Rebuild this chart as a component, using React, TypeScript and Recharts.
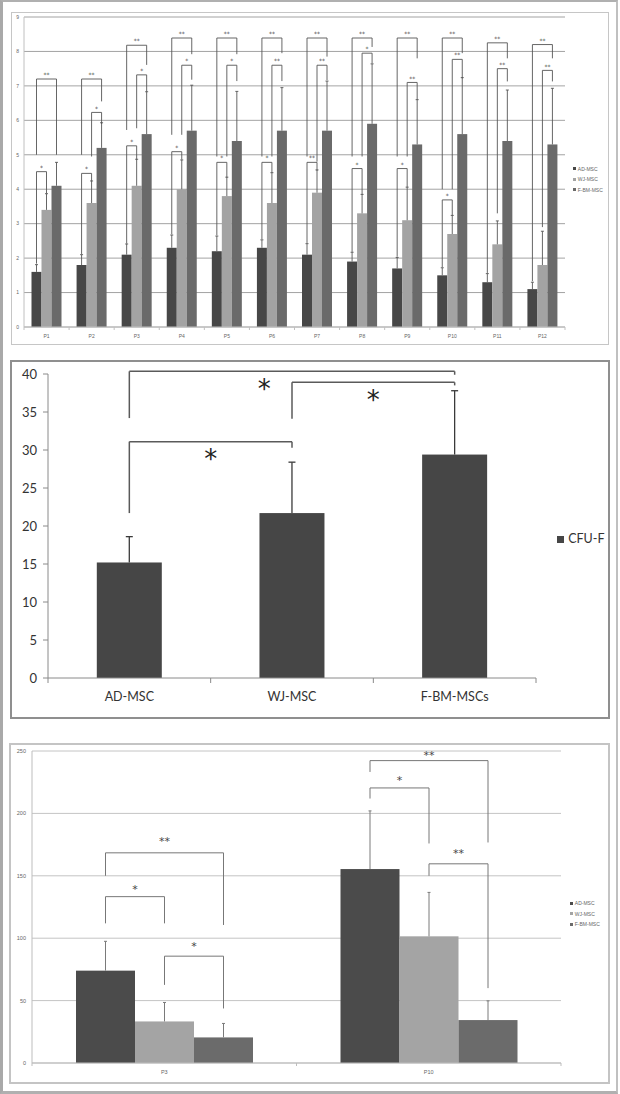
import React from 'react';
import { BarChart, Bar, XAxis, YAxis, CartesianGrid, ReferenceLine } from 'recharts';

// ---------------- Panel A: proliferation by passage ----------------
const passages = ['P1', 'P2', 'P3', 'P4', 'P5', 'P6', 'P7', 'P8', 'P9', 'P10', 'P11', 'P12'];
const adMsc = [1.6, 1.8, 2.1, 2.3, 2.2, 2.3, 2.1, 1.9, 1.7, 1.5, 1.3, 1.1];
const adMscSd = [0.21, 0.3, 0.31, 0.37, 0.44, 0.23, 0.32, 0.27, 0.32, 0.22, 0.25, 0.2];
const wjMsc = [3.4, 3.6, 4.1, 4.0, 3.8, 3.6, 3.9, 3.3, 3.1, 2.7, 2.4, 1.8];
const wjMscSd = [0.47, 0.64, 0.77, 0.85, 0.55, 0.88, 0.66, 0.55, 0.96, 0.54, 0.68, 0.98];
const fbmMsc = [4.1, 5.2, 5.6, 5.7, 5.4, 5.7, 5.7, 5.9, 5.3, 5.6, 5.4, 5.3];
const fbmMscSd = [0.68, 0.73, 1.23, 1.32, 1.44, 1.25, 1.44, 1.74, 1.3, 1.64, 1.48, 1.63];
const growthTicks = [0, 1, 2, 3, 4, 5, 6, 7, 8, 9];
const seriesNames = ['AD-MSC', 'WJ-MSC', 'F-BM-MSC'];

type Bracket = { cat: number; from: number; to: number; y0: number; top: number; y1: number; label: string; labelY?: number };

const growthBrackets: Bracket[] = [
  { cat: 0, from: 0, to: 2, y0: 5.0, top: 7.2, y1: 5.0, label: '**' },
  { cat: 0, from: 0, to: 1, y0: 1.84, top: 4.51, y1: 3.88, label: '*' },
  { cat: 1, from: 0, to: 2, y0: 5.0, top: 7.2, y1: 6.55, label: '**' },
  { cat: 1, from: 1, to: 2, y0: 4.95, top: 6.23, y1: 5.9, label: '*' },
  { cat: 1, from: 0, to: 1, y0: 2.12, top: 4.46, y1: 4.24, label: '*' },
  { cat: 2, from: 0, to: 2, y0: 5.72, top: 8.18, y1: 7.61, label: '**' },
  { cat: 2, from: 1, to: 2, y0: 5.77, top: 7.32, y1: 6.83, label: '*' },
  { cat: 2, from: 0, to: 1, y0: 2.42, top: 5.26, y1: 4.86, label: '*' },
  { cat: 3, from: 0, to: 2, y0: 5.58, top: 8.39, y1: 7.92, label: '**' },
  { cat: 3, from: 1, to: 2, y0: 5.58, top: 7.6, y1: 7.18, label: '*' },
  { cat: 3, from: 0, to: 1, y0: 2.69, top: 5.09, y1: 4.86, label: '*' },
  { cat: 4, from: 0, to: 2, y0: 4.95, top: 8.39, y1: 7.92, label: '**' },
  { cat: 4, from: 1, to: 2, y0: 4.95, top: 7.6, y1: 7.14, label: '*' },
  { cat: 4, from: 0, to: 1, y0: 2.66, top: 4.78, y1: 4.34, label: '*' },
  { cat: 5, from: 0, to: 2, y0: 4.95, top: 8.39, y1: 7.95, label: '**' },
  { cat: 5, from: 1, to: 2, y0: 4.95, top: 7.6, y1: 7.14, label: '**' },
  { cat: 5, from: 0, to: 1, y0: 2.55, top: 4.78, y1: 4.48, label: '*' },
  { cat: 6, from: 0, to: 2, y0: 4.95, top: 8.39, y1: 7.85, label: '**' },
  { cat: 6, from: 1, to: 2, y0: 4.8, top: 7.6, y1: 7.17, label: '**' },
  { cat: 6, from: 0, to: 1, y0: 2.44, top: 4.78, y1: 4.54, label: '**' },
  { cat: 7, from: 0, to: 2, y0: 4.95, top: 8.39, y1: 8.13, label: '**' },
  { cat: 7, from: 1, to: 2, y0: 4.95, top: 7.95, y1: 7.66, label: '*' },
  { cat: 7, from: 0, to: 1, y0: 2.18, top: 4.6, y1: 3.85, label: '*' },
  { cat: 8, from: 0, to: 2, y0: 4.95, top: 8.39, y1: 7.8, label: '**' },
  { cat: 8, from: 1, to: 2, y0: 4.95, top: 7.1, y1: 6.6, label: '**' },
  { cat: 8, from: 0, to: 1, y0: 2.04, top: 4.6, y1: 4.06, label: '*' },
  { cat: 9, from: 0, to: 2, y0: 4.0, top: 8.39, y1: 7.95, label: '**' },
  { cat: 9, from: 1, to: 2, y0: 4.0, top: 7.77, y1: 7.22, label: '**' },
  { cat: 9, from: 0, to: 1, y0: 1.74, top: 3.69, y1: 3.24, label: '*' },
  { cat: 10, from: 0, to: 2, y0: 1.57, top: 8.25, y1: 7.8, label: '**' },
  { cat: 10, from: 1, to: 2, y0: 3.3, top: 7.5, y1: 7.13, label: '**' },
  { cat: 11, from: 0, to: 2, y0: 1.33, top: 8.2, y1: 7.8, label: '**' },
  { cat: 11, from: 1, to: 2, y0: 2.9, top: 7.45, y1: 7.13, label: '**' },
];

// ---------------- Panel B: CFU-F ----------------
const cfuGroups = ['AD-MSC', 'WJ-MSC', 'F-BM-MSCs'];
const cfuValues = [15.2, 21.7, 29.4];
const cfuSd = [3.4, 6.7, 8.4];
const cfuTicks = [0, 5, 10, 15, 20, 25, 30, 35, 40];
const cfuSeriesName = 'CFU-F';
const cfuBrackets = [
  { from: 0, to: 1, y0: 21.7, top: 31.1, y1: 30.3, label: '*', frac: 0.5 },
  { from: 0, to: 2, y0: 34.2, top: 40.35, y1: 39.9, label: '*', frac: 0.415 },
  { from: 1, to: 2, y0: 34.1, top: 38.9, y1: 38.5, label: '*', frac: 0.5 },
];

// ---------------- Panel C: P3 vs P10 ----------------
const colonyPassages = ['P3', 'P10'];
const colAd = [74, 155.4];
const colAdSd = [23.5, 46.6];
const colWj = [33.3, 101.5];
const colWjSd = [15.2, 35.2];
const colFbm = [20.5, 34.4];
const colFbmSd = [11.2, 15.4];
const colonyTicks = [0, 50, 100, 150, 200, 250];
const colonyBrackets: Bracket[] = [
  { cat: 0, from: 0, to: 1, y0: 111.9, top: 133.3, y1: 111.9, label: '*', labelY: 140.7 },
  { cat: 0, from: 0, to: 2, y0: 150, top: 168.4, y1: 110.6, label: '**', labelY: 179.4 },
  { cat: 0, from: 1, to: 2, y0: 62.6, top: 85.6, y1: 43.7, label: '*', labelY: 95 },
  { cat: 1, from: 0, to: 1, y0: 211.9, top: 220.4, y1: 175.9, label: '*', labelY: 228.4 },
  { cat: 1, from: 0, to: 2, y0: 233.2, top: 242.3, y1: 176.7, label: '**', labelY: 248.4 },
  { cat: 1, from: 1, to: 2, y0: 150, top: 159.6, y1: 60, label: '**', labelY: 170 },
];

// ---------------- tables ----------------
const growthData = passages.map((p, i) => ({
  name: p, ad: adMsc[i], adSd: adMscSd[i], wj: wjMsc[i], wjSd: wjMscSd[i], fbm: fbmMsc[i], fbmSd: fbmMscSd[i],
}));
const cfuData = cfuGroups.map((g, i) => ({ name: g, cfu: cfuValues[i], cfuSd: cfuSd[i] }));
const colonyData = colonyPassages.map((p, i) => ({
  name: p, ad: colAd[i], adSd: colAdSd[i], wj: colWj[i], wjSd: colWjSd[i], fbm: colFbm[i], fbmSd: colFbmSd[i],
}));

const FONT_SMALL = '"Liberation Sans", Arial, sans-serif';
const FONT_MAIN = 'Lato, "Open Sans", sans-serif';
const FONT_STAR = '"DejaVu Sans", sans-serif';

type ShapeOpts = {
  fill: string; valueKey: string; sdKey: string; errStroke: string; errWidth: number; capW: number;
  seriesIndex: number; brackets?: Bracket[]; bracketStroke?: string; bracketWidth?: number;
  starSize?: number; starAbove?: number; starColor?: string;
};

function makeBarShape(o: ShapeOpts) {
  return function BarShape(props: any) {
    const { x, y, width, height, payload, index } = props;
    const v = payload[o.valueKey];
    const base = y + height;
    const k = v ? height / v : 0;
    const toY = (val: number) => base - val * k;
    const cx = x + width / 2;
    const errTop = toY(v + payload[o.sdKey]);
    const els: any[] = [];
    els.push(<rect key="r" x={x} y={y} width={width} height={height} fill={o.fill} />);
    els.push(<line key="e" x1={cx} x2={cx} y1={y} y2={errTop} stroke={o.errStroke} strokeWidth={o.errWidth} />);
    els.push(<line key="c" x1={cx - o.capW / 2} x2={cx + o.capW / 2} y1={errTop} y2={errTop} stroke={o.errStroke} strokeWidth={o.errWidth} />);
    if (o.brackets) {
      o.brackets.filter((b) => b.cat === index).forEach((b, j) => {
        const xa = cx + (b.from - o.seriesIndex) * width;
        const xb = cx + (b.to - o.seriesIndex) * width;
        const yt = toY(b.top);
        els.push(
          <path key={'b' + j} d={`M${xa},${toY(b.y0)} V${yt} H${xb} V${toY(b.y1)}`} fill="none"
            stroke={o.bracketStroke} strokeWidth={o.bracketWidth} />
        );
        const ss = o.starSize || 6;
        const cyStar = b.labelY !== undefined ? toY(b.labelY) : yt - (o.starAbove || 5);
        els.push(
          <text key={'s' + j} x={(xa + xb) / 2} y={cyStar + ss * 0.52} textAnchor="middle" fontSize={ss}
            fontFamily={FONT_STAR} fill={o.starColor || '#333'} opacity={0.99}>{b.label}</text>
        );
      });
    }
    return <g>{els}</g>;
  };
}

function makeCatTick(o: { margin: number; tickLen: number; fontSize: number; color: string; lineColor: string; total: number; font: string }) {
  return function CatTick(props: any) {
    const { x, y, payload } = props;
    let half = payload && typeof payload.offset === 'number' ? payload.offset : 0;
    if (!(half > 0) && typeof props.width === 'number' && props.visibleTicksCount) {
      half = props.width / (2 * props.visibleTicksCount);
    }
    const axisY = y - o.margin;
    const idx = typeof props.index === 'number' ? props.index : payload.index;
    return (
      <g>
        {half > 0 && <line x1={x - half} x2={x - half} y1={axisY} y2={axisY + o.tickLen} stroke={o.lineColor} strokeWidth={1} />}
        {half > 0 && idx === o.total - 1 && (
          <line x1={x + half} x2={x + half} y1={axisY} y2={axisY + o.tickLen} stroke={o.lineColor} strokeWidth={1} />
        )}
        <text x={x} y={y} dy="0.71em" textAnchor="middle" fontSize={o.fontSize} fill={o.color} fontFamily={o.font}>
          {payload.value}
        </text>
      </g>
    );
  };
}

function Frame({ left, top, width, height, color, t }: any) {
  return (
    <div style={{ position: 'absolute', left, top, width, height, boxSizing: 'border-box', border: `${t}px solid ${color}` }} />
  );
}

function MiniLegend({ left, top, step, size, fontSize, names, colors, font, color }: any) {
  return (
    <div style={{ position: 'absolute', left, top, fontFamily: font, fontSize, color, lineHeight: `${step}px`, whiteSpace: 'nowrap' }}>
      {names.map((n: string, i: number) => (
        <div key={n} style={{ height: step, display: 'flex', alignItems: 'center' }}>
          <span style={{ display: 'inline-block', width: size, height: size, background: colors[i], marginRight: size * 0.6 }} />
          <span>{n}</span>
        </div>
      ))}
    </div>
  );
}

const C1 = ['#474747', '#a3a3a3', '#6a6a6a'];
const C3 = ['#4b4b4b', '#a4a4a4', '#6b6b6b'];

export default function App() {
  const grow = (i: number, vk: string, sk: string, br?: Bracket[]) =>
    makeBarShape({
      fill: C1[i], valueKey: vk, sdKey: sk, errStroke: '#555', errWidth: 0.9, capW: 3, seriesIndex: i,
      brackets: br, bracketStroke: '#555', bracketWidth: 0.9, starSize: 6, starAbove: 5, starColor: '#444',
    });
  const col = (i: number, vk: string, sk: string, br?: Bracket[]) =>
    makeBarShape({
      fill: C3[i], valueKey: vk, sdKey: sk, errStroke: '#7a7a7a', errWidth: 1, capW: 3, seriesIndex: i,
      brackets: br, bracketStroke: '#777', bracketWidth: 1, starSize: 11, starColor: '#444',
    });

  return (
    <div style={{ position: 'absolute', left: 0, top: 0, width: 620, height: 1094, background: '#fff', overflow: 'hidden' }}>
      {/* outer frame */}
      <div style={{ position: 'absolute', left: 0, top: 0, width: 618, height: 1094, boxSizing: 'border-box',
        borderLeft: '3px solid #a9a9a9', borderTop: '2px solid #b0b0b0', borderRight: '2px solid #c0c0c0', borderBottom: '3px solid #b0b0b0' }} />

      {/* Panel A */}
      <Frame left={11} top={12} width={598} height={333} color="#c6c6c6" t={1} />
      <div style={{ position: 'absolute', left: 11, top: 12 }}>
        <BarChart width={598} height={333} data={growthData} margin={{ top: 5, right: 44, left: 0, bottom: 0 }}
          barGap={0} barCategoryGap={7.5}>
          <CartesianGrid vertical={false} stroke="#8c8c8c" strokeWidth={0.8} />
          <XAxis dataKey="name" height={18} interval={0} tickSize={0} tickMargin={7} axisLine={{ stroke: '#c0c0c0' }}
            tickLine={false}
            tick={makeCatTick({ margin: 7, tickLen: 3, fontSize: 5, color: '#666', lineColor: '#c0c0c0', total: passages.length, font: FONT_SMALL })} />
          <YAxis width={13} domain={[0, 9]} ticks={growthTicks} interval={0} tickSize={0} tickMargin={5} tickLine={false}
            axisLine={{ stroke: '#c0c0c0' }} tick={{ fontSize: 5, fill: '#666', fontFamily: FONT_SMALL }} />
          <Bar dataKey="ad" name={seriesNames[0]} fill={C1[0]} isAnimationActive={false} shape={grow(0, 'ad', 'adSd')} />
          <Bar dataKey="wj" name={seriesNames[1]} fill={C1[1]} isAnimationActive={false} shape={grow(1, 'wj', 'wjSd')} />
          <Bar dataKey="fbm" name={seriesNames[2]} fill={C1[2]} isAnimationActive={false} shape={grow(2, 'fbm', 'fbmSd', growthBrackets)} />
        </BarChart>
      </div>
      <MiniLegend left={573} top={163.5} step={10.5} size={3} fontSize={5} names={seriesNames} colors={C1} font={FONT_SMALL} color="#666" />

      {/* Panel B */}
      <Frame left={10} top={360} width={600} height={359} color="#8f8f8f" t={2} />
      <div style={{ position: 'absolute', left: 11, top: 361 }}>
        <BarChart width={598} height={357} data={cfuData} margin={{ top: 13, right: 73, left: 0, bottom: 0 }} barCategoryGap="30%">
          <XAxis dataKey="name" height={40} interval={0} tickSize={0} tickMargin={14} tickLine={false} axisLine={{ stroke: '#8a8a8a' }}
            tick={makeCatTick({ margin: 14, tickLen: 5, fontSize: 12.5, color: '#333', lineColor: '#8a8a8a', total: cfuGroups.length, font: FONT_MAIN })} />
          <YAxis width={37} domain={[0, 40]} ticks={cfuTicks} interval={0} tickSize={5} tickMargin={6}
            tickLine={{ stroke: '#8a8a8a' }} axisLine={{ stroke: '#8a8a8a' }} tick={{ fontSize: 13, fill: '#333', fontFamily: FONT_MAIN }} />
          <Bar dataKey="cfu" name={cfuSeriesName} fill="#464646" isAnimationActive={false}
            shape={makeBarShape({ fill: '#464646', valueKey: 'cfu', sdKey: 'cfuSd', errStroke: '#3a3a3a', errWidth: 1.3, capW: 7, seriesIndex: 0 })} />
          {cfuBrackets.map((b, i) => (
            <ReferenceLine key={'l' + i} ifOverflow="visible" stroke="#5a5a5a" strokeWidth={1.5}
              segment={[{ x: cfuGroups[b.from], y: b.y0 }, { x: cfuGroups[b.from], y: b.top }]} />
          ))}
          {cfuBrackets.map((b, i) => (
            <ReferenceLine key={'r' + i} ifOverflow="visible" stroke="#5a5a5a" strokeWidth={1.5}
              segment={[{ x: cfuGroups[b.to], y: b.top }, { x: cfuGroups[b.to], y: b.y1 }]} />
          ))}
          {cfuBrackets.map((b, i) => (
            <ReferenceLine key={'h' + i} ifOverflow="visible" stroke="#5a5a5a" strokeWidth={1.5}
              segment={[{ x: cfuGroups[b.from], y: b.top }, { x: cfuGroups[b.to], y: b.top }]}
              label={(p: any) => {
                const vb = p.viewBox || {};
                const sx = (vb.x || 0) + b.frac * (vb.width || 0);
                const sy = (vb.y || 0) + 13;
                return (
                  <text x={sx} y={sy + 26 * 0.52} textAnchor="middle" fontSize={26} fontFamily={FONT_STAR} fill="#222">{b.label}</text>
                );
              }} />
          ))}
        </BarChart>
      </div>
      <MiniLegend left={557} top={532} step={14} size={7} fontSize={12.5} names={[cfuSeriesName]} colors={['#464646']} font={FONT_MAIN} color="#333" />

      {/* Panel C */}
      <Frame left={9} top={743} width={601} height={341} color="#c4c4c4" t={2} />
      <div style={{ position: 'absolute', left: 10, top: 744 }}>
        <BarChart width={599} height={339} data={colonyData} margin={{ top: 7, right: 48, left: 0, bottom: 0 }}
          barGap={0} barCategoryGap={44}>
          <CartesianGrid vertical={false} stroke="#c4c4c4" strokeWidth={1} />
          <XAxis dataKey="name" height={20} interval={0} tickSize={0} tickMargin={7} tickLine={false} axisLine={{ stroke: '#bdbdbd' }}
            tick={makeCatTick({ margin: 7, tickLen: 3, fontSize: 5.5, color: '#666', lineColor: '#bdbdbd', total: colonyPassages.length, font: FONT_SMALL })} />
          <YAxis width={22} domain={[0, 250]} ticks={colonyTicks} interval={0} tickSize={0} tickMargin={6} tickLine={false}
            axisLine={{ stroke: '#bdbdbd' }} tick={{ fontSize: 5.5, fill: '#666', fontFamily: FONT_SMALL }} />
          <Bar dataKey="ad" name={seriesNames[0]} fill={C3[0]} isAnimationActive={false} shape={col(0, 'ad', 'adSd')} />
          <Bar dataKey="wj" name={seriesNames[1]} fill={C3[1]} isAnimationActive={false} shape={col(1, 'wj', 'wjSd')} />
          <Bar dataKey="fbm" name={seriesNames[2]} fill={C3[2]} isAnimationActive={false} shape={col(2, 'fbm', 'fbmSd', colonyBrackets)} />
        </BarChart>
      </div>
      <MiniLegend left={570} top={898} step={10.5} size={3} fontSize={5} names={seriesNames} colors={C3} font={FONT_SMALL} color="#666" />
    </div>
  );
}
